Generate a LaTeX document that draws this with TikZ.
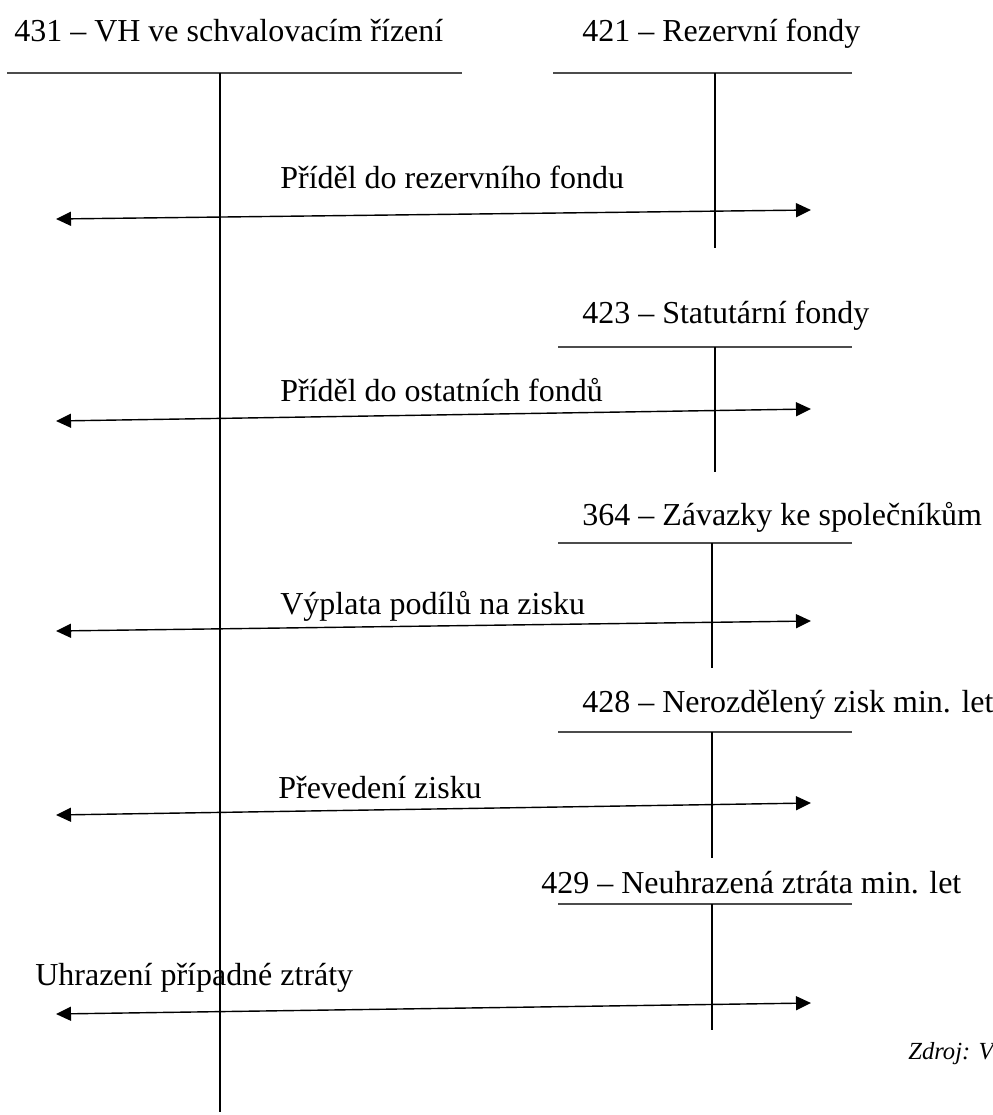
\documentclass[tikz,border=0pt]{standalone}
\usepackage{fontspec}
\setmainfont{Liberation Serif}
\usetikzlibrary{arrows.meta}
\tikzset{
  ucet title/.style={
    anchor=base west,
    inner sep=0pt,
    font=\fontsize{18.2}{22}\selectfont
  },
  flow label/.style={
    anchor=base west,
    inner sep=0pt,
    font=\fontsize{18.2}{22}\selectfont
  },
  ucet head/.style={
    draw=black!70,
    line width=1.1pt
  },
  ucet axis/.style={
    draw=black,
    line width=0.85pt
  },
  flow arrow/.style={
    {Triangle[length=3mm,width=2.8mm]}-{Triangle[length=3mm,width=2.8mm]},
    draw=black,
    line width=0.8pt
  }
}

\begin{document}
\begin{tikzpicture}[x=0.02cm, y=-0.02cm]
        \useasboundingbox (0,0) rectangle (993,1115);

        \node[ucet title] (t431) at (14,42) {431 -- VH ve schvalovacím řízení};
        \node[ucet title] (t421) at (582,42) {421 -- Rezervní fondy};
        \node[ucet title] (t423) at (582,323) {423 -- Statutární fondy};
        \node[ucet title] (t364) at (582,525) {364 -- Závazky ke společníkům};
        \node[ucet title] (t428) at (582,712) {428 -- Nerozdělený zisk min. let};
        \node[ucet title] (t429) at (541,893) {429 -- Neuhrazená ztráta min. let};

        \coordinate (h431a) at (7,73);   \coordinate (h431b) at (462,73);
        \coordinate (v431a) at (220,73); \coordinate (v431b) at (220,1112);
        \coordinate (h421a) at (553,73); \coordinate (h421b) at (852,73);
        \coordinate (v421a) at (715,73); \coordinate (v421b) at (715,248);
        \coordinate (h423a) at (558,347); \coordinate (h423b) at (852,347);
        \coordinate (v423a) at (715,347); \coordinate (v423b) at (715,472);
        \coordinate (h364a) at (558,543); \coordinate (h364b) at (852,543);
        \coordinate (v364a) at (712,543); \coordinate (v364b) at (712,668);
        \coordinate (h428a) at (558,732); \coordinate (h428b) at (852,732);
        \coordinate (v428a) at (712,732); \coordinate (v428b) at (712,858);
        \coordinate (h429a) at (558,904); \coordinate (h429b) at (852,904);
        \coordinate (v429a) at (712,904); \coordinate (v429b) at (712,1030);

        \foreach \u in {431,421,423,364,428,429} {
          \draw[ucet head] (h\u a) -- (h\u b);
          \draw[ucet axis] (v\u a) -- (v\u b);
        }

        \coordinate (l1) at (56,219);  \coordinate (r1) at (811,210);
        \coordinate (l2) at (56,421);  \coordinate (r2) at (811,409);
        \coordinate (l3) at (56,631);  \coordinate (r3) at (811,621);
        \coordinate (l4) at (56,815);  \coordinate (r4) at (811,803);
        \coordinate (l5) at (56,1014); \coordinate (r5) at (811,1003);

        \node[flow label] (f1) at (280,188) {Příděl do rezervního fondu};
        \node[flow label] (f2) at (280,401) {Příděl do ostatních fondů};
        \node[flow label] (f3) at (280,614) {Výplata podílů na zisku};
        \node[flow label] (f4) at (278,798) {Převedení zisku};
        \node[flow label] (f5) at (35,985) {Uhrazení případné ztráty};

        \foreach \i in {1,...,5}
          \draw[flow arrow] (l\i) -- (r\i);

        \node[anchor=base west,inner sep=0pt,font=\fontsize{14}{17}\selectfont\itshape] (zdroj) at (908,1059) {Zdroj: V};
      \end{tikzpicture}
\end{document}
